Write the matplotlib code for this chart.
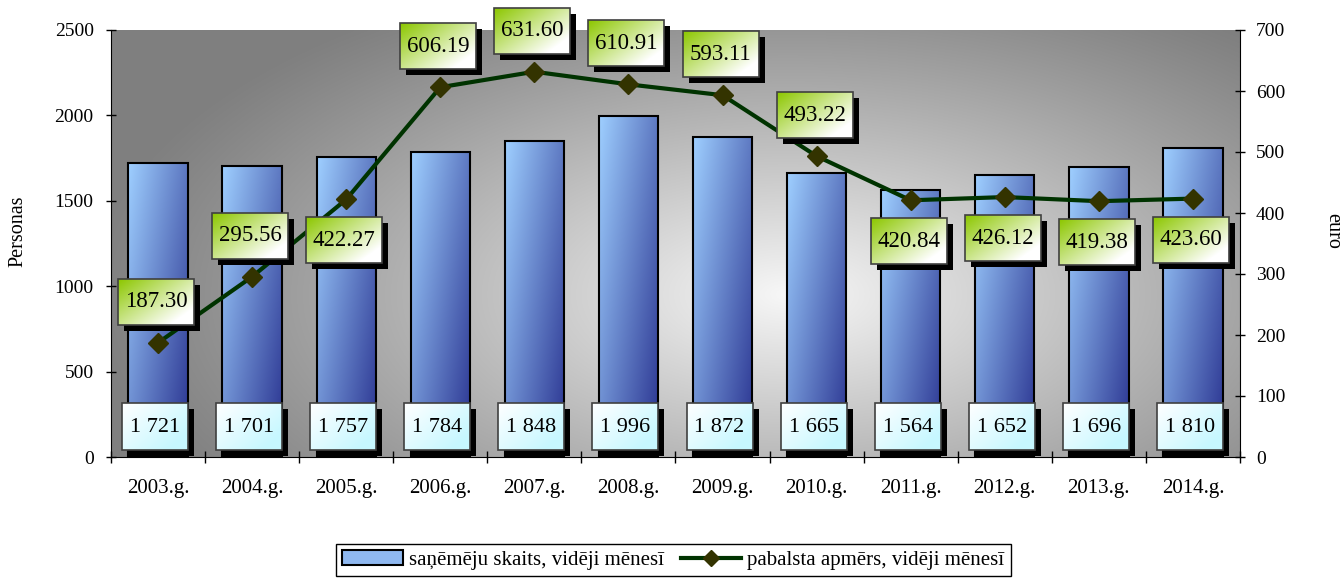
import numpy as np
import matplotlib
matplotlib.use("Agg")
from matplotlib import pyplot as plt
from matplotlib.patches import Rectangle, Patch
from matplotlib.lines import Line2D
from matplotlib.transforms import IdentityTransform

# data
years = ["2003.g.", "2004.g.", "2005.g.", "2006.g.", "2007.g.", "2008.g.",
         "2009.g.", "2010.g.", "2011.g.", "2012.g.", "2013.g.", "2014.g."]
persons = [1721, 1701, 1757, 1784, 1848, 1996, 1872, 1665, 1564, 1652, 1696, 1810]
euro = [187.30, 295.56, 422.27, 606.19, 631.60, 610.91, 593.11, 493.22,
        420.84, 426.12, 419.38, 423.60]
# where the green label sits relative to its point
euro_label_side = [1, 1, -1, 1, 1, 1, 1, 1, -1, -1, -1, -1]

plt.rcParams['font.family'] = ['Liberation Serif', 'DejaVu Serif']

W, H = 1341, 580
fig = plt.figure(figsize=(W / 100, H / 100), dpi=100)
ax = fig.add_axes([111 / W, 123 / H, (1240 - 111) / W, (457 - 30) / H])
ax2 = ax.twinx()

x = np.arange(len(years))
bw = 0.63

# gray radial background of the plot area
gx, gy = np.meshgrid(np.linspace(0, 1, 400), np.linspace(1, 0, 200))
r = np.sqrt(((gx - 0.60) / 0.62) ** 2 + ((gy - 0.38) / 0.80) ** 2)
v = 1 - np.clip(r, 0, 1)
g = 0.50 + 0.47 * v ** 1.1
ax.imshow(np.dstack([g, g, g]), extent=[0, 1, 0, 1], transform=ax.transAxes,
          aspect='auto', zorder=0, interpolation='bilinear')


def bar_grad(h=100, w=40):
    u, t = np.meshgrid(np.linspace(0, 1, w), np.linspace(0, 1, h))
    m = np.clip(0.6 * u + 0.5 * t, 0, 1)[..., None]
    light = np.array([0.62, 0.81, 1.0])
    dark = np.array([0.20, 0.25, 0.60])
    return light * (1 - m) + dark * m


grad = bar_grad()
for xi, val in zip(x, persons):
    ax.imshow(grad, extent=[xi - bw / 2, xi + bw / 2, 0, val], aspect='auto',
              zorder=1, interpolation='bilinear')
ax.bar(x, persons, bw, facecolor='none', edgecolor='black', linewidth=1.5, zorder=2)

ax.set_xlim(-0.5, len(years) - 0.5)
ax.set_ylim(0, 2500)
ax.set_yticks(np.arange(0, 2501, 500))
ax.set_xticks(np.arange(-0.5, len(years), 1.0))
ax.set_xticklabels([])
ax.set_xticks(x, minor=True)
ax.set_xticklabels(years, minor=True, fontsize=15)
ax.tick_params(axis='x', which='major', direction='inout', length=9, width=1)
ax.tick_params(axis='x', which='minor', length=0, pad=16)
ax.tick_params(axis='y', direction='inout', length=7, width=1, labelsize=14, pad=9)
for s in ['top', 'right']:
    ax.spines[s].set_visible(False)

ax2.plot(x, euro, color='#003300', linewidth=3, marker='D', markersize=10.5,
         markerfacecolor='#333300', markeredgecolor='#333300', zorder=3)
ax2.set_ylim(0, 700)
ax2.set_yticks(np.arange(0, 701, 100))
ax2.tick_params(axis='y', direction='inout', length=7, width=1, labelsize=14, pad=8)
for s in ['top', 'left', 'bottom']:
    ax2.spines[s].set_visible(False)
ax.patch.set_visible(False)

fig.text(18 / W, 1 - 231 / H, "Personas", rotation=90, ha='center', va='center', fontsize=14.5)
fig.text(1333 / W, 1 - 231 / H, "euro", rotation=270, ha='center', va='center', fontsize=14.5)


def box_grad(w, h, c0, c1):
    u, t = np.meshgrid(np.linspace(0, 1, w), np.linspace(0, 1, h))
    m = np.clip(0.65 * u + 0.55 * t, 0, 1)[..., None]
    return np.array(c0) * (1 - m) + np.array(c1) * m


def label_box(cx, cy, w, h, text, c0, c1, size):
    x0, y0 = int(round(cx - w / 2)), int(round(cy - h / 2))
    fig.add_artist(Rectangle((x0 + 6, y0 - 6), w, h, transform=IdentityTransform(),
                             facecolor='black', edgecolor='none', zorder=10))
    fig.figimage(box_grad(w, h, c0, c1), xo=x0, yo=y0, zorder=11, origin='upper')
    fig.add_artist(Rectangle((x0, y0), w, h, transform=IdentityTransform(),
                             facecolor='none', edgecolor='#404040', linewidth=1.2, zorder=12))
    fig.text(cx, cy, text, transform=IdentityTransform(), ha='center', va='center',
             fontsize=size, zorder=13)


for xi, val in zip(x, persons):
    px, py = ax.transData.transform((xi, 0))
    label_box(px - 3, py + 30, 66, 47, f"{val:,}".replace(",", " "),
              (1.0, 1.0, 1.0), (0.78, 0.97, 1.0), 16)

for xi, val, side in zip(x, euro, euro_label_side):
    px, py = ax2.transData.transform((xi, val))
    label_box(px - 2, py + side * 41, 76, 46, f"{val:.2f}",
              (0.55, 0.78, 0.0), (1.0, 1.0, 1.0), 16.5)

handles = [Patch(facecolor='#8fb8f0', edgecolor='black', linewidth=1.5),
           Line2D([], [], color='#003300', linewidth=3, marker='D', markersize=8,
                  markerfacecolor='#333300', markeredgecolor='#333300')]
leg = fig.legend(handles, ["saņēmēju skaits, vidēji mēnesī", "pabalsta apmērs, vidēji mēnesī"],
                 loc='center', bbox_to_anchor=(673.5 / W, 1 - 560 / H), ncol=2,
                 fontsize=15, frameon=True, fancybox=False, edgecolor='black',
                 framealpha=1, handlelength=2.9, columnspacing=0.8, handletextpad=0.3,
                 borderpad=0.3, borderaxespad=0)
leg.get_frame().set_linewidth(1)

fig.savefig("out.png", dpi=100)
